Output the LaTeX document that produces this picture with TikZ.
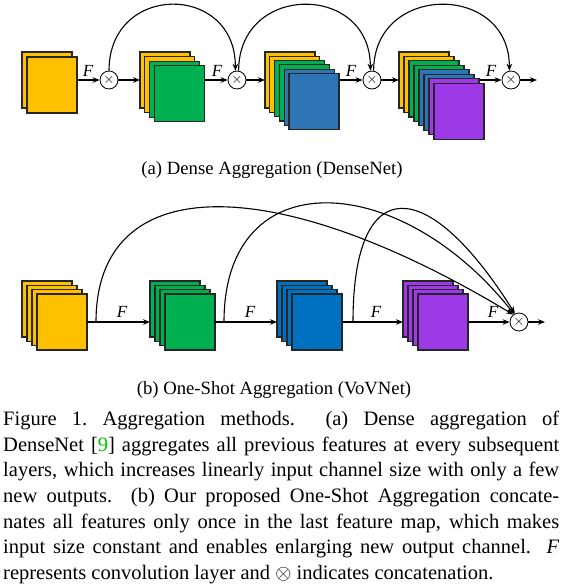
\documentclass[tikz,border=0pt]{standalone}
\usepackage{fontspec}
\setmainfont{Liberation Serif}
\usetikzlibrary{arrows.meta,backgrounds,calc}
\definecolor{cY}{RGB}{255,192,0}
\definecolor{cG}{RGB}{0,176,80}
\definecolor{cBa}{RGB}{46,117,182}
\definecolor{cBb}{RGB}{0,112,192}
\definecolor{cP}{RGB}{157,57,230}
\definecolor{citeg}{RGB}{0,200,0}
\begin{document}
\begin{tikzpicture}[x=1pt,y=-1pt,
  sq/.style={draw=black!85, line width=1.2pt, minimum width=50pt, minimum height=56pt, anchor=north west, inner sep=0pt, outer sep=0pt},
  cat/.style={circle, draw, fill=white, minimum size=18pt, inner sep=0pt, line width=0.8pt, font=\fontsize{14}{14}\selectfont},
  conn/.style={line width=1.1pt, -{Stealth[length=7pt,width=5.5pt]}},
  flab/.style={font=\fontsize{17}{18}\selectfont\itshape},
  subcap/.style={font=\fontsize{18.7}{22}\selectfont}
]
\useasboundingbox (0,0) rectangle (564,586);

% ---------- (a) Dense aggregation ----------
\foreach \c [count=\i from 0] in {cY,cY}
  \node[sq,fill=\c] (a1l\i) at ({22+5*\i},{52+5*\i}) {};
\foreach \c [count=\i from 0] in {cY,cY,cG,cG}
  \node[sq,fill=\c] (a2l\i) at ({140+4.8*\i},{52+4.6*\i}) {};
\foreach \c [count=\i from 0] in {cY,cY,cG,cG,cBa,cBa}
  \node[sq,fill=\c] (a3l\i) at ({265+4.8*\i},{52+4.3*\i}) {};
\foreach \c [count=\i from 0] in {cY,cY,cG,cG,cBa,cBa,cP,cP}
  \node[sq,fill=\c] (a4l\i) at ({399+5*\i},{52+4.45*\i}) {};

\node[cat] (ca1) at (109,80) {$\times$};
\node[cat] (ca2) at (237,80) {$\times$};
\node[cat] (ca3) at (372,80) {$\times$};
\node[cat] (ca4) at (511,80) {$\times$};
\coordinate (ea) at (537,80);

\begin{pgfonlayer}{background}
\draw[conn] (a1l1.center |- ca1) -- (ca1);
\draw[conn] (a2l3.center |- ca2) -- (ca2);
\draw[conn] (a3l5.center |- ca3) -- (ca3);
\draw[conn] (a4l7.center |- ca4) -- (ca4);
\end{pgfonlayer}
\draw[conn] (ca1) -- (a2l0.west |- ca1);
\draw[conn] (ca2) -- (a3l0.west |- ca2);
\draw[conn] (ca3) -- (a4l0.west |- ca3);
\draw[conn] (ca4) -- (ea);

\node[flab] (fa1) at (88,71) {F};
\node[flab] (fa2) at (217,71) {F};
\node[flab] (fa3) at (351,71) {F};
\node[flab] (fa4) at (491,71) {F};

\draw[conn] (ca1.north) .. controls +(0,-88) and +(0,-88) .. (ca2.100);
\draw[conn] (ca2.80) .. controls +(0,-88) and +(0,-88) .. (ca3.100);
\draw[conn] (ca3.80) .. controls +(0,-88) and +(0,-88) .. (ca4.100);

\node[subcap] (capa) at (272,170) {(a) Dense Aggregation (DenseNet)};

% ---------- (b) One-shot aggregation ----------
\foreach \c [count=\i from 0] in {cY,cY,cY,cY}
  \node[sq,fill=\c] (b1l\i) at ({22+5*\i},{281+4.3*\i}) {};
\foreach \c [count=\i from 0] in {cG,cG,cG,cG}
  \node[sq,fill=\c] (b2l\i) at ({150+5*\i},{281+4.3*\i}) {};
\foreach \c [count=\i from 0] in {cBb,cBb,cBb,cBb}
  \node[sq,fill=\c] (b3l\i) at ({277+5*\i},{281+4.3*\i}) {};
\foreach \c [count=\i from 0] in {cP,cP,cP,cP}
  \node[sq,fill=\c] (b4l\i) at ({403+5*\i},{281+4.3*\i}) {};

\node[cat] (cb) at (519,322) {$\times$};
\coordinate (k1) at (96,322);
\coordinate (k2) at (224,322);
\coordinate (k3) at (353,322);
\coordinate (eb) at (545,322);

\draw[conn] (b1l3.east |- cb) -- (b2l0.west |- cb);
\draw[conn] (b2l3.east |- cb) -- (b3l0.west |- cb);
\draw[conn] (b3l3.east |- cb) -- (b4l0.west |- cb);
\draw[conn] (b4l3.east |- cb) -- (cb);
\draw[conn] (cb) -- (eb);

\node[flab] (fb1) at (122,312) {F};
\node[flab] (fb2) at (250,312) {F};
\node[flab] (fb3) at (376,312) {F};
\node[flab] (fb4) at (493,312) {F};

\draw[conn] (k1) .. controls (96,172) and (270,168) .. (cb.128);
\draw[conn] (k2) .. controls (224,160) and (400,170) .. (cb.122);
\draw[conn] (k3) .. controls (353,170) and (428,175) .. (cb.116);

\node[subcap] (capb) at (274,390) {(b) One-Shot Aggregation (VoVNet)};

% ---------- caption ----------
\node[anchor=north west, inner sep=0pt, text width=556pt, align=justify,
      font=\fontsize{20.5}{25.6}\selectfont] (cap) at (3,411) {%
\hyphenpenalty=10000\emergencystretch=20pt%
Figure 1.\ Aggregation methods.\ \ (a) Dense aggregation of\linebreak
DenseNet [{\color{citeg}9}] aggregates all previous features at every subsequent\linebreak
layers, which increases linearly input channel size with only a few\linebreak
new outputs.\ \ (b) Our proposed One-Shot Aggregation concate-\linebreak
nates all features only once in the last feature map, which makes\linebreak
input size constant and enables enlarging new output channel.\ \ \textit{F}\linebreak
represents convolution layer and $\otimes$ indicates concatenation.};
\end{tikzpicture}
\end{document}
